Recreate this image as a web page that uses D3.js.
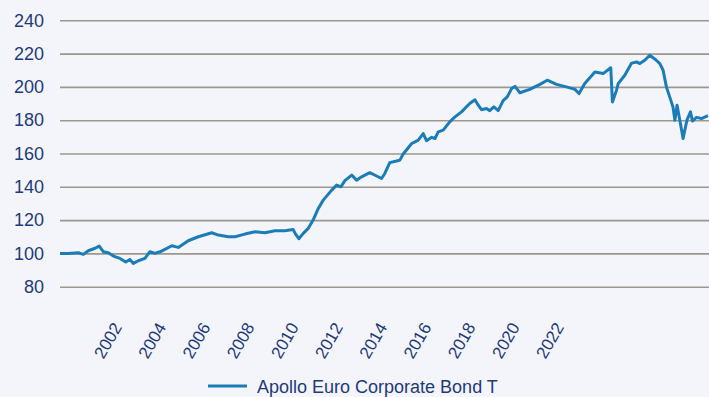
<!DOCTYPE html>
<html>
<head>
<meta charset="utf-8">
<script src="https://cdn.jsdelivr.net/npm/d3@7"></script>
<style>
  html, body { margin: 0; padding: 0; background: #f4f5fb; }
  svg { display: block; font-family: "Liberation Sans", Arial, sans-serif; }
</style>
</head>
<body>
<svg id="chart" width="709" height="397"></svg>
<script>
// Fund performance, indexed to 100 at the start (decimal year -> index value)
const years = [
  2000.00, 2000.30, 2000.67, 2000.85, 2001.03, 2001.28, 2001.43, 2001.58, 2001.76, 2001.95,
  2002.19, 2002.40, 2002.55, 2002.68, 2002.86, 2003.10, 2003.28, 2003.47, 2003.71, 2004.08,
  2004.32, 2004.68, 2005.05, 2005.54, 2005.78, 2006.14, 2006.39, 2006.75, 2007.12, 2007.48,
  2007.85, 2008.21, 2008.51, 2008.60, 2008.72, 2008.88, 2009.06, 2009.24, 2009.43, 2009.61,
  2009.92, 2010.10, 2010.26, 2010.40, 2010.65, 2010.83, 2011.01, 2011.31, 2011.56, 2011.74,
  2011.86, 2012.04, 2012.29, 2012.41, 2012.53, 2012.84, 2012.96, 2013.08, 2013.26, 2013.38,
  2013.57, 2013.69, 2013.81, 2013.99, 2014.23, 2014.42, 2014.66, 2014.96, 2015.15, 2015.27,
  2015.39, 2015.57, 2015.69, 2015.84, 2016.00, 2016.18, 2016.33, 2016.49, 2016.61, 2016.79,
  2017.15, 2017.52, 2017.79, 2018.13, 2018.49, 2018.80, 2018.95, 2019.16, 2019.53, 2019.83,
  2020.11, 2020.17, 2020.32, 2020.38, 2020.62, 2020.87, 2021.05, 2021.17, 2021.35, 2021.53,
  2021.75, 2021.90, 2022.02, 2022.14, 2022.26, 2022.38, 2022.45, 2022.53, 2022.63, 2022.75,
  2022.89, 2023.02, 2023.09, 2023.24, 2023.42, 2023.66
];
const values = [
  100.0, 100.0, 100.4, 99.4, 101.6, 103.1, 104.4, 101.0, 100.4, 98.4,
  97.0, 94.8, 96.4, 94.0, 95.6, 97.0, 101.0, 100.0, 101.4, 104.6,
  103.6, 107.6, 110.0, 112.4, 111.0, 110.0, 110.0, 111.6, 113.0, 112.4,
  113.6, 113.6, 114.4, 111.6, 108.8, 112.0, 115.0, 120.0, 127.0, 132.0,
  138.0, 141.0, 140.0, 143.7, 147.0, 144.0, 146.0, 148.5, 146.5, 145.0,
  148.0, 154.5, 155.5, 156.0, 159.7, 166.0, 167.0, 168.0, 172.0, 167.7,
  169.7, 169.0, 173.0, 174.0, 179.0, 182.0, 185.0, 190.0, 192.3, 189.0,
  186.3, 187.0, 185.7, 188.0, 185.8, 191.8, 194.0, 199.0, 200.3, 196.5,
  198.5, 201.5, 204.0, 201.5, 200.0, 198.5, 196.0, 202.0, 209.0, 208.0,
  211.5, 191.0, 198.0, 202.0, 207.0, 214.3, 215.0, 214.0, 216.0, 219.0,
  216.3, 214.0, 210.0, 200.0, 194.0, 188.0, 180.0, 189.0, 180.0, 169.0,
  180.0, 185.0, 179.5, 181.7, 181.0, 182.7
];
const yTicks = [80, 100, 120, 140, 160, 180, 200, 220, 240];
const tickYears = [2002, 2004, 2006, 2008, 2010, 2012, 2014, 2016, 2018, 2020, 2022];
const seriesName = "Apollo Euro Corporate Bond T";

const textColor = "#1e3a78";
const lineColor = "#1a7db8";
const gridColor = "#9a978c";

const svg = d3.select("#chart");
const W = 709;
const margin = { left: 60, right: 0, top: 20.3, bottom: 110.3 };
const plotW = W - margin.left - margin.right;

// decimal year -> Date
function toDate(y) {
  const yr = Math.floor(y);
  const start = new Date(yr, 0, 1), end = new Date(yr + 1, 0, 1);
  return new Date(+start + (y - yr) * (end - start));
}
const data = years.map((y, i) => ({ date: toDate(y), value: values[i] }));

const x = d3.scaleTime()
  .domain(d3.extent(data, d => d.date))
  .range([margin.left, 708]);

const y = d3.scaleLinear()
  .domain([80, 240])
  .range([286.7, margin.top]);

// horizontal grid + value labels
const yAxis = svg.append("g")
  .attr("transform", `translate(${margin.left},0)`)
  .call(d3.axisLeft(y).tickValues(yTicks).tickSize(-plotW).tickPadding(16).tickFormat(d3.format("d")));
yAxis.select(".domain").remove();
yAxis.selectAll(".tick line").attr("stroke", gridColor).attr("stroke-width", 1.6);
yAxis.selectAll(".tick text")
  .attr("fill", textColor).attr("font-size", 18)
  .attr("font-family", "Liberation Sans, Arial, sans-serif");

// year labels along the bottom
const labelScale = d3.scaleLinear().domain([2002, 2022]).range([122, 564]);
const xAxis = svg.append("g")
  .attr("transform", "translate(0,327)")
  .call(d3.axisBottom(labelScale).tickValues(tickYears).tickSize(0).tickPadding(0).tickFormat(d3.format("d")));
xAxis.select(".domain").remove();
xAxis.selectAll(".tick text")
  .attr("fill", textColor).attr("font-size", 17)
  .attr("font-family", "Liberation Sans, Arial, sans-serif")
  .attr("text-anchor", "end")
  .attr("dy", 0).attr("y", 0)
  .attr("transform", "rotate(-60)");

// series line
const line = d3.line()
  .x(d => x(d.date))
  .y(d => y(d.value));

svg.append("path")
  .datum(data)
  .attr("d", line)
  .attr("fill", "none")
  .attr("stroke", lineColor)
  .attr("stroke-width", 3)
  .attr("stroke-linejoin", "round");

// legend
const legend = svg.append("g").attr("transform", "translate(208,386)");
legend.append("line")
  .attr("x1", 0).attr("x2", 39).attr("y1", 0).attr("y2", 0)
  .attr("stroke", lineColor).attr("stroke-width", 3);
legend.append("text")
  .attr("x", 49).attr("y", 7)
  .attr("fill", textColor).attr("font-size", 18)
  .text(seriesName);
</script>
</body>
</html>
